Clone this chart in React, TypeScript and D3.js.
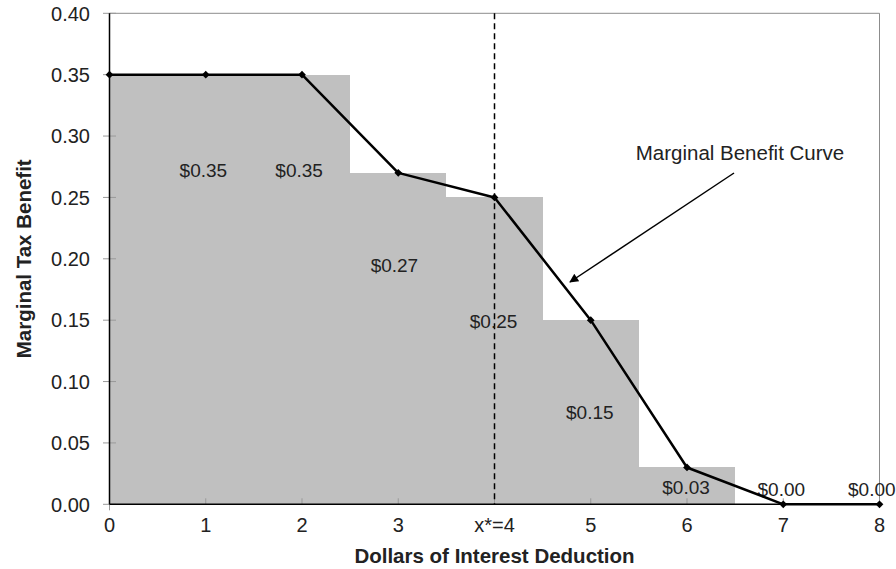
import React from "react";
import * as d3 from "d3";

const barCategories = [0, 1, 2, 3, 4, 5, 6];
const barValues = [0.35, 0.35, 0.35, 0.27, 0.25, 0.15, 0.03];
const curveX = [0, 1, 2, 3, 4, 5, 6, 7, 8];
const curveValues = [0.35, 0.35, 0.35, 0.27, 0.25, 0.15, 0.03, 0.0, 0.0];
const xTicks = [0, 1, 2, 3, 4, 5, 6, 7, 8];
const xTickLabels = ["0", "1", "2", "3", "x*=4", "5", "6", "7", "8"];
const yTicks = [0, 0.05, 0.1, 0.15, 0.2, 0.25, 0.3, 0.35, 0.4];
const valueLabels = ["$0.35", "$0.35", "$0.27", "$0.25", "$0.15", "$0.03", "$0.00", "$0.00"];
const valueLabelX = [0.975, 1.97, 2.96, 3.99, 4.99, 5.99, 6.98, 7.92];
const valueLabelY = [0.272, 0.272, 0.195, 0.149, 0.075, 0.014, 0.0124, 0.0124];
const optimumX = 4;
const annotationText = "Marginal Benefit Curve";

const W = 896;
const H = 569;
const FONT = "'Liberation Sans', Arial, Helvetica, sans-serif";

export default function App() {
  const x = d3.scaleLinear().domain([0, 8]).range([109.5, 879.5]);
  const y = d3.scaleLinear().domain([0, 0.4]).range([504.3, 13.3]);
  const line = d3
    .line<number>()
    .x((_, i) => x(curveX[i]))
    .y((v) => y(v));
  const marker = d3.symbol().type(d3.symbolSquare).size(30)();

  return (
    <svg
      width={W}
      height={H}
      style={{ position: "absolute", left: 0, top: 0, background: "#fff" }}
      fontFamily={FONT}
    >
      <defs>
        <clipPath id="plot">
          <rect x={x(0)} y={y(0.4)} width={x(8) - x(0)} height={y(0) - y(0.4)} />
        </clipPath>
        <marker
          id="arrow"
          viewBox="0 0 10 10"
          refX="9"
          refY="5"
          markerWidth="12"
          markerHeight="9"
          markerUnits="userSpaceOnUse"
          orient="auto"
        >
          <path d="M0,0 L10,5 L0,10 z" fill="#000" />
        </marker>
      </defs>

      {/* bars */}
      <g clipPath="url(#plot)" shapeRendering="crispEdges">
        {barCategories.map((c, i) => (
          <rect
            key={i}
            x={Math.round(x(c - 0.5))}
            y={Math.round(y(barValues[i]))}
            width={Math.round(x(c + 0.5)) - Math.round(x(c - 0.5))}
            height={Math.round(y(0)) - Math.round(y(barValues[i]))}
            fill="#c0c0c0"
          />
        ))}
      </g>

      {/* plot frame top/right */}
      <line x1={x(0)} x2={x(8)} y1={y(0.4)} y2={y(0.4)} stroke="#8c8c8c" strokeWidth={1} />
      <line x1={x(8)} x2={x(8)} y1={y(0.4)} y2={y(0)} stroke="#8c8c8c" strokeWidth={1} />

      {/* y ticks */}
      {yTicks.map((t, i) => (
        <g key={i}>
          <line x1={x(0) - 6.5} x2={x(0) + 6.5} y1={y(t)} y2={y(t)} stroke="#999" strokeWidth={1} />
          <text x={90} y={y(t)} dy="0.36em" textAnchor="end" fontSize={20} fill="#222">
            {t.toFixed(2)}
          </text>
        </g>
      ))}

      {/* x ticks */}
      {xTicks.map((t, i) => (
        <g key={i}>
          <line x1={x(t)} x2={x(t)} y1={y(0) - 6} y2={y(0) + (i === 0 ? 6 : 0)} stroke="#999" strokeWidth={1} />
          <text x={x(t)} y={532} textAnchor="middle" fontSize={20} fill="#222">
            {xTickLabels[i]}
          </text>
        </g>
      ))}

      {/* axes */}
      <line x1={x(0)} x2={x(0)} y1={y(0.4)} y2={y(0)} stroke="#000" strokeWidth={1.5} />
      <line x1={x(0)} x2={x(8)} y1={y(0)} y2={y(0)} stroke="#000" strokeWidth={1.5} />

      {/* dashed optimum line */}
      <line
        x1={x(optimumX)}
        x2={x(optimumX)}
        y1={y(0.4)}
        y2={y(0)}
        stroke="#000"
        strokeWidth={1.5}
        strokeDasharray="6,4"
      />

      {/* value labels */}
      {valueLabels.map((s, i) => (
        <text
          key={i}
          x={x(valueLabelX[i])}
          y={y(valueLabelY[i])}
          dy="0.36em"
          textAnchor="middle"
          fontSize={19}
          fill="#222"
        >
          {s}
        </text>
      ))}

      {/* curve */}
      <path d={line(curveValues) || ""} fill="none" stroke="#000" strokeWidth={2.5} strokeLinejoin="round" />
      {curveValues.map((v, i) => (
        <path
          key={i}
          d={marker || ""}
          transform={`translate(${x(curveX[i])},${y(v)}) rotate(45)`}
          fill="#000"
        />
      ))}

      {/* annotation */}
      <text x={740} y={153} dy="0.36em" textAnchor="middle" fontSize={20.5} fill="#222">
        {annotationText}
      </text>
      <line x1={734} y1={173} x2={570} y2={282} stroke="#000" strokeWidth={1.5} markerEnd="url(#arrow)" />

      {/* axis titles */}
      <text x={x(4)} y={563} textAnchor="middle" fontSize={20.5} fontWeight="bold" fill="#222">
        Dollars of Interest Deduction
      </text>
      <text
        transform={`translate(31,${y(0.2)}) rotate(-90)`}
        textAnchor="middle"
        fontSize={20.5}
        fontWeight="bold"
        fill="#222"
      >
        Marginal Tax Benefit
      </text>
    </svg>
  );
}
